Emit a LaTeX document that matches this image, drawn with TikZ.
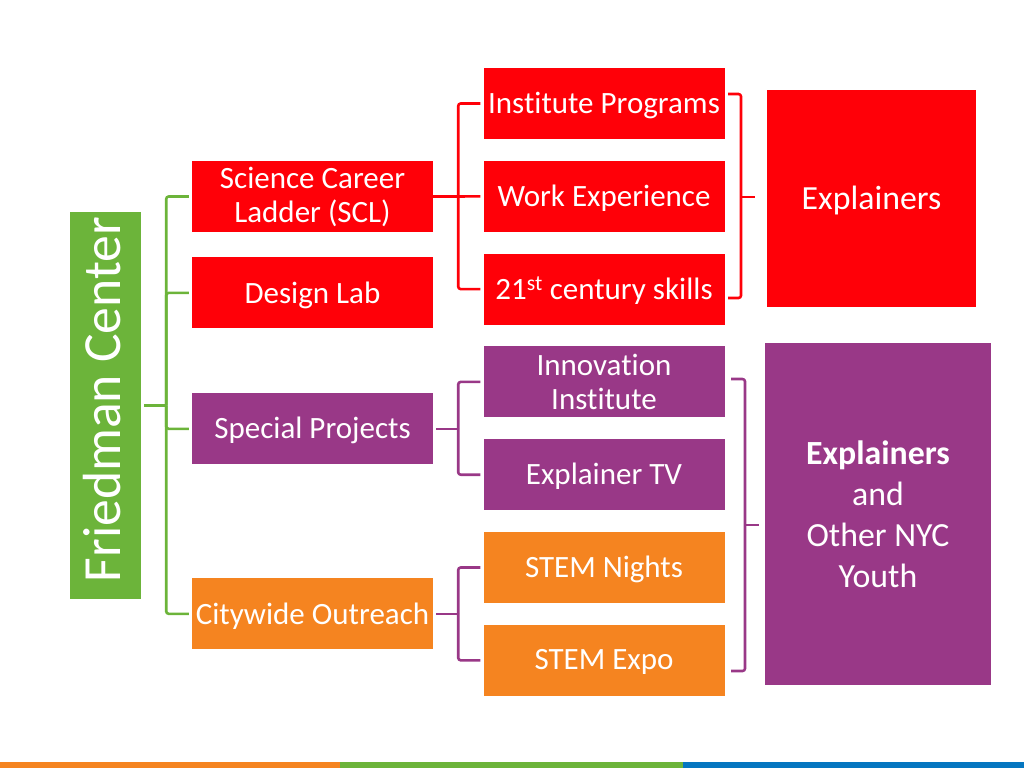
\documentclass[tikz,border=0pt]{standalone}
\usepackage{fontspec}
\setmainfont{Carlito}[Ligatures=NoCommon]
\usepackage{xcolor}
\usetikzlibrary{positioning}
\newcommand{\txtdrop}[1]{\raisebox{-2pt}[\height][\depth]{#1}}
\definecolor{fcred}{RGB}{255, 0, 8}
\definecolor{fcpurple}{RGB}{153, 56, 135}
\definecolor{fcorange}{RGB}{245, 132, 32}
\definecolor{fcgreen}{RGB}{108, 180, 58}
\definecolor{fcblue}{RGB}{5, 118, 192}
\tikzstyle{tbox} = [rectangle, inner sep=0pt, text=white, text centered, align=center, minimum width=241pt, minimum height=71pt, font=\fontsize{31}{34}\selectfont]
\tikzstyle{redbox} = [tbox, fill=fcred]
\tikzstyle{purplebox} = [tbox, fill=fcpurple]
\tikzstyle{orangebox} = [tbox, fill=fcorange]
\tikzstyle{bigbox} = [rectangle, inner sep=0pt, text=white, align=center, font=\fontsize{33.8}{41}\selectfont]
\tikzstyle{tedge} = [draw, line width=2.6pt, line join=round, rounded corners=2.5pt]

\begin{document}
\begin{tikzpicture}[x=1pt, y=-1pt]
\useasboundingbox (0,0) rectangle (1024,768);

% left column =============================
\node[rotate=90, inner sep=0pt, fill=fcgreen, text=white, minimum width=387pt, minimum height=71pt, font=\fontsize{53.7}{60}\selectfont] (friedman) at (105.5,405.5) {\raisebox{3pt}[\height][\depth]{\kern 12pt Friedman Center}};
\node[redbox] (scl) at (312.5,196.5) {Science Career\\Ladder (SCL)};
\node[redbox, below=25pt of scl] (design) {\txtdrop{Design Lab}};
\node[purplebox, below=64.5pt of design] (special) {\txtdrop{Special Projects}};
\node[orangebox, below=113.6pt of special] (citywide) {\txtdrop{Citywide Outreach}};

% middle column =============================
\node[redbox] (institute) at (604,103.5) {\txtdrop{Institute Programs}};
\node[redbox, below=21.4pt of institute] (work) {\txtdrop{Work Experience}};
\node[redbox, below=21.4pt of work] (skills) {\txtdrop{21\textsuperscript{st} century skills}};
\node[purplebox, below=21.4pt of skills] (innovation) {Innovation\\Institute};
\node[purplebox, below=21.4pt of innovation] (tv) {\txtdrop{Explainer TV}};
\node[orangebox, below=21.4pt of tv] (nights) {\txtdrop{STEM Nights}};
\node[orangebox, below=21.4pt of nights] (expo) {\txtdrop{STEM Expo}};

% right column =============================
\node[bigbox, fill=fcred, minimum width=209pt, minimum height=217pt] (explainers) at (871.5,198.5) {\txtdrop{Explainers}};
\node[bigbox, fill=fcpurple, minimum width=226pt, minimum height=342pt] (youth) at (878,514) {\textbf{Explainers}\\and\\Other NYC\\Youth};

% joints
\coordinate[right=25pt of friedman.south] (gjoint);
\coordinate[right=25pt of scl.east] (rjoint);
\coordinate[right=25pt of special.east] (pjoint);
\coordinate[right=25pt of citywide.east] (ojoint);
\coordinate (rtop) at (728,94);
\coordinate (rbot) at (728,298);
\coordinate (rspine) at (741,197);
\coordinate (rtip) at (755,197);
\coordinate (ptop) at (731,379);
\coordinate (pbot) at (731,671);
\coordinate (pspine) at (745,525);
\coordinate (ptip) at (759,525);

% green edges
\path[tedge, fcgreen, shorten <=3pt] (friedman.south) -- (gjoint);
\path[tedge, fcgreen, shorten >=3pt] (gjoint) |- (scl.west);
\path[tedge, fcgreen, shorten >=3pt] (gjoint) |- (design.west);
\path[tedge, fcgreen, shorten >=3pt] (gjoint) |- (special.west);
\path[tedge, fcgreen, shorten >=3pt] (gjoint) |- (citywide.west);

% red edges
\path[tedge, fcred] (scl.east) -- (rjoint);
\path[tedge, fcred, shorten >=3pt] (rjoint) |- (institute.west);
\path[tedge, fcred, shorten >=3pt] (rjoint) -- (work.west);
\path[tedge, fcred, shorten >=3pt] (rjoint) |- (skills.west);
\path[tedge, fcred] (rtop) -| (rspine) |- (rbot);
\path[tedge, fcred] (rspine) -- (rtip);

% purple edges
\path[tedge, fcpurple, shorten <=3pt] (special.east) -- (pjoint);
\path[tedge, fcpurple, shorten >=3pt] (pjoint) |- (innovation.west);
\path[tedge, fcpurple, shorten >=3pt] (pjoint) |- (tv.west);
\path[tedge, fcpurple, shorten <=3pt] (citywide.east) -- (ojoint);
\path[tedge, fcpurple, shorten >=3pt] (ojoint) |- (nights.west);
\path[tedge, fcpurple, shorten >=3pt] (ojoint) |- (expo.west);
\path[tedge, fcpurple] (ptop) -| (pspine) |- (pbot);
\path[tedge, fcpurple] (pspine) -- (ptip);

% bottom strip
\fill[fcorange] (0,762) rectangle (340,768);
\fill[fcgreen] (340,762) rectangle (683,768);
\fill[fcblue] (683,762) rectangle (1024,768);

\end{tikzpicture}
\end{document}
